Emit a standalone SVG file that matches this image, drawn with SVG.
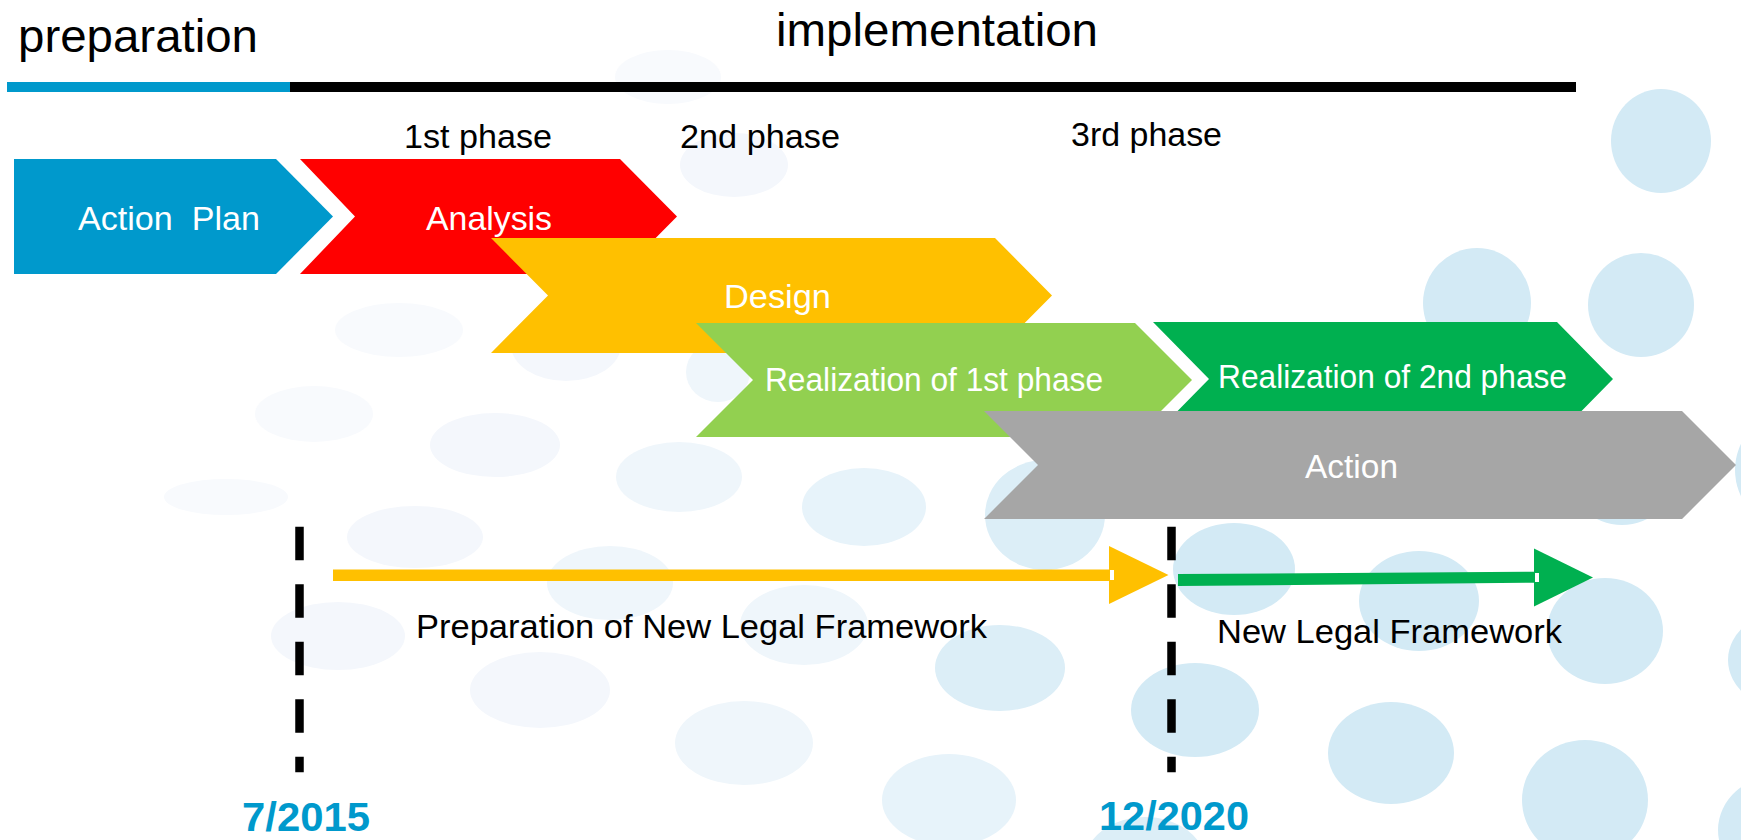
<svg xmlns="http://www.w3.org/2000/svg" width="1741" height="840" viewBox="0 0 1741 840">
<style>
text{font-family:"Liberation Sans",Arial,Helvetica,sans-serif}
.hdr{font-size:46px;fill:#000}
.ph{font-size:33px;fill:#000}
.lbl{font-size:33px;fill:#fff}
.cap{font-size:34px;fill:#000}
.date{font-size:41px;font-weight:bold;fill:#0099CC}
.s1{fill:#D3EAF5}.s2{fill:#DCEEF7}.s3{fill:#E7F3FA}.s4{fill:#EFF6FB}.s5{fill:#F4F7FC}.s6{fill:#F8FAFD}
.dash{stroke:#000;stroke-width:8.5;stroke-dasharray:33.5 24;fill:none}
</style>
<rect width="1741" height="840" fill="#fff"/>
<g id="background">
<ellipse class="s1" cx="1661" cy="141" rx="50" ry="52"/>
<ellipse class="s1" cx="1477" cy="303" rx="54" ry="55"/>
<ellipse class="s1" cx="1641" cy="305" rx="53" ry="52"/>
<ellipse class="s1" cx="1622" cy="472" rx="54" ry="53"/>
<ellipse class="s1" cx="1785" cy="470" rx="50" ry="55"/>
<ellipse class="s1" cx="1234" cy="569" rx="61" ry="46"/>
<ellipse class="s1" cx="1419" cy="601" rx="60" ry="50"/>
<ellipse class="s1" cx="1605" cy="631" rx="58" ry="53"/>
<ellipse class="s1" cx="1790" cy="660" rx="62" ry="50"/>
<ellipse class="s1" cx="1195" cy="710" rx="64" ry="47"/>
<ellipse class="s1" cx="1391" cy="753" rx="63" ry="51"/>
<ellipse class="s1" cx="1585" cy="800" rx="63" ry="60"/>
<ellipse class="s1" cx="1780" cy="830" rx="62" ry="55"/>
<ellipse class="s2" cx="1145" cy="862" rx="60" ry="45"/>
<ellipse class="s2" cx="1045" cy="515" rx="60" ry="55"/>
<ellipse class="s2" cx="1000" cy="668" rx="65" ry="43"/>
<ellipse class="s3" cx="949" cy="800" rx="67" ry="46"/>
<ellipse class="s3" cx="864" cy="507" rx="62" ry="39"/>
<ellipse class="s4" cx="804" cy="625" rx="64" ry="40"/>
<ellipse class="s4" cx="744" cy="743" rx="69" ry="42"/>
<ellipse class="s4" cx="679" cy="477" rx="63" ry="35"/>
<ellipse class="s4" cx="610" cy="583" rx="63" ry="37"/>
<ellipse class="s4" cx="718" cy="372" rx="32" ry="30"/>
<ellipse class="s5" cx="540" cy="690" rx="70" ry="38"/>
<ellipse class="s5" cx="415" cy="537" rx="68" ry="31"/>
<ellipse class="s5" cx="338" cy="636" rx="67" ry="34"/>
<ellipse class="s5" cx="495" cy="445" rx="65" ry="32"/>
<ellipse class="s5" cx="566" cy="345" rx="55" ry="36"/>
<ellipse class="s5" cx="734" cy="165" rx="54" ry="32"/>
<ellipse class="s6" cx="668" cy="77" rx="53" ry="27"/>
<ellipse class="s6" cx="399" cy="330" rx="64" ry="27"/>
<ellipse class="s6" cx="314" cy="414" rx="59" ry="28"/>
<ellipse class="s6" cx="226" cy="497" rx="62" ry="18"/>
</g>
<g id="header">
<text class="hdr" x="18" y="52" textLength="240" lengthAdjust="spacingAndGlyphs">preparation</text>
<text class="hdr" x="776" y="46" textLength="322" lengthAdjust="spacingAndGlyphs">implementation</text>
<rect x="7" y="82" width="283" height="10" fill="#0099CC"/>
<rect x="290" y="82" width="1286" height="10" fill="#000"/>
<text class="ph" x="404" y="148" textLength="148" lengthAdjust="spacingAndGlyphs">1st phase</text>
<text class="ph" x="680" y="148" textLength="160" lengthAdjust="spacingAndGlyphs">2nd phase</text>
<text class="ph" x="1071" y="146" textLength="151" lengthAdjust="spacingAndGlyphs">3rd phase</text>
</g>
<g id="action-plan">
<polygon points="14,159 276,159 333,216.5 276,274 14,274" fill="#0099CC"/>
<text class="lbl" x="78" y="230" textLength="182" lengthAdjust="spacingAndGlyphs" xml:space="preserve">Action  Plan</text>
</g>
<g id="analysis">
<polygon points="300,159 620,159 677,216.5 620,274 300,274 355,216.5" fill="#FF0000"/>
<text class="lbl" x="426" y="230" textLength="126" lengthAdjust="spacingAndGlyphs">Analysis</text>
</g>
<g id="design">
<polygon points="491,238 995,238 1052,295.5 995,353 491,353 548,295.5" fill="#FFC000"/>
<text class="lbl" x="724" y="308" textLength="107" lengthAdjust="spacingAndGlyphs">Design</text>
</g>
<g id="realization-1">
<polygon points="696,323 1135,323 1192,380 1135,437 696,437 753,380" fill="#92D050"/>
<text class="lbl" x="765" y="391" textLength="338" lengthAdjust="spacingAndGlyphs">Realization of 1st phase</text>
</g>
<g id="realization-2">
<polygon points="1153,322 1557,322 1613,379 1557,436 1153,436 1209,379" fill="#00B050"/>
<text class="lbl" x="1218" y="388" textLength="349" lengthAdjust="spacingAndGlyphs">Realization of 2nd phase</text>
</g>
<g id="action">
<polygon points="984,411 1682,411 1736,465 1682,519 984,519 1038,465" fill="#A6A6A6"/>
<text class="lbl" x="1305" y="478" textLength="93" lengthAdjust="spacingAndGlyphs">Action</text>
</g>
<g id="connectors">
<line class="dash" x1="299.5" y1="526.7" x2="299.5" y2="772.3"/>
<line class="dash" x1="1171.5" y1="526.7" x2="1171.5" y2="772.3"/>
<rect x="333" y="569.5" width="778" height="11.5" fill="#FFC000"/>
<polygon points="1109,546 1168.5,575 1109,604" fill="#FFC000"/>
<rect x="1110" y="570" width="4" height="10" fill="#fff"/>
<polygon points="1178,574 1536,571.7 1536,582.7 1178,586" fill="#00B050"/>
<polygon points="1534,548.5 1593,577.5 1534,606.5" fill="#00B050"/>
<rect x="1535" y="573" width="4" height="9" fill="#fff"/>
</g>
<g id="labels">
<text class="cap" x="416" y="638" textLength="571" lengthAdjust="spacingAndGlyphs">Preparation of New Legal Framework</text>
<text class="cap" x="1217" y="642.5" textLength="345" lengthAdjust="spacingAndGlyphs">New Legal Framework</text>
<text class="date" x="242" y="831" textLength="128" lengthAdjust="spacingAndGlyphs">7/2015</text>
<text class="date" x="1099" y="830" textLength="150" lengthAdjust="spacingAndGlyphs">12/2020</text>
</g>
</svg>
